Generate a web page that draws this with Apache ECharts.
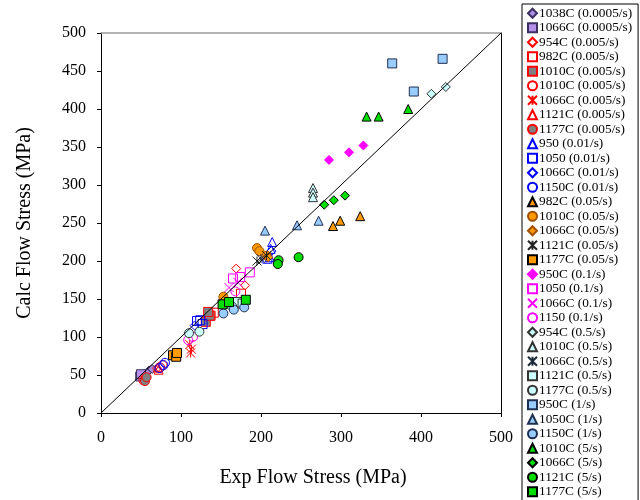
<!DOCTYPE html>
<html>
<head>
<meta charset="utf-8">
<script src="https://cdn.jsdelivr.net/npm/echarts@6/dist/echarts.min.js"></script>
<style>
  html, body { margin: 0; padding: 0; background: #fff; }
  #chart { width: 640px; height: 500px; }
</style>
</head>
<body>
<div id="chart"></div>
<script>
// Axis ticks
const axisTicks = [0, 50, 100, 150, 200, 250, 300, 350, 400, 450, 500];

// Measured (Exp) vs. calculated (Calc) flow stress, MPa: [exp, calc]
const s1038C_00005 = [[60, 56], [64, 58], [57, 53]];
const s1066C_00005 = [[49, 48], [50, 51]];
const s954C_0005 = [[169, 190], [180, 168], [70, 59]];
const s982C_0005 = [[175, 157], [141, 132], [137, 128]];
const s1010C_0005a = [[131, 120], [136, 128], [134, 133]];
const s1010C_0005b = [[53, 43], [74, 60], [77, 63], [56, 46]];
const s1066C_0005 = [[111, 90], [113, 84], [112, 79]];
const s1121C_0005 = [[72, 57], [71, 60]];
const s1177C_0005 = [[55, 42], [57, 47]];
const s950_001 = [[214, 225], [212, 216], [211, 205]];
const s1050_001 = [[120, 121], [127, 117], [124, 122], [208, 203]];
const s1066C_001 = [[213, 213], [117, 115]];
const s1150C_001 = [[78, 63], [73, 59], [80, 66]];
const s982C_005 = [[290, 246], [299, 253], [324, 259]];
const s1010C_005 = [[195, 217], [198, 213], [207, 207], [153, 153]];
const s1066C_005 = [[209, 205]];
const s1121C_005 = [[207, 207], [195, 200]];
const s1177C_005 = [[90, 76], [94, 74], [95, 79]];
const s950C_01 = [[285, 333], [310, 343], [328, 352]];
const s1050_01 = [[165, 177], [174, 179], [186, 185]];
const s1066C_01 = [[160, 165], [171, 172]];
const s1150_01 = [[109, 96], [115, 100], [168, 160]];
const s954C_05 = [[413, 420], [431, 429]];
const s1010C_05 = [[265, 296], [265, 290], [265, 284]];
const s1066C_05 = [[200, 203]];
const s1121C_05 = [[170, 146], [177, 144]];
const s1177C_05 = [[110, 105], [123, 107], [164, 140]];
const s950C_1 = [[364, 460], [427, 466], [391, 423]];
const s1050C_1 = [[205, 240], [245, 247], [272, 253]];
const s1150C_1 = [[153, 131], [166, 136], [179, 139]];
const s1010C_5 = [[332, 390], [347, 390], [384, 400]];
const s1066C_5 = [[279, 274], [291, 280], [305, 286]];
const s1121C_5 = [[222, 201], [221, 196], [247, 205]];
const s1177C_5 = [[152, 143], [160, 146], [181, 149]];

// Line of perfect agreement
const parityLine = [[0, 0], [500, 500]];

const NONE = 'rgba(255,255,255,0)';
const STAR = 'path://M0,0L10,10M10,0L0,10M5,0L5,10';
const CROSS = 'path://M0,0L10,10M10,0L0,10';

// name, data, symbol, fill, stroke
const groups = [
  ['1038C (0.0005/s)', s1038C_00005, 'diamond', '#a88de0', '#3d3060'],
  ['1066C (0.0005/s)', s1066C_00005, 'rect', '#b591ea', '#3d3060'],
  ['954C (0.005/s)', s954C_0005, 'diamond', NONE, '#ff0000'],
  ['982C (0.005/s)', s982C_0005, 'rect', NONE, '#ff0000'],
  ['1010C (0.005/s)', s1010C_0005a, 'rect', '#808080', '#ff0000'],
  ['1010C (0.005/s) ', s1010C_0005b, 'circle', NONE, '#ff0000'],
  ['1066C (0.005/s)', s1066C_0005, STAR, NONE, '#ff0000'],
  ['1121C (0.005/s)', s1121C_0005, 'triangle', NONE, '#ff0000'],
  ['1177C (0.005/s)', s1177C_0005, 'circle', '#808080', '#ff0000'],
  ['950 (0.01/s)', s950_001, 'triangle', NONE, '#0000ff'],
  ['1050 (0.01/s)', s1050_001, 'rect', NONE, '#0000ff'],
  ['1066C (0.01/s)', s1066C_001, 'diamond', NONE, '#0000ff'],
  ['1150C (0.01/s)', s1150C_001, 'circle', NONE, '#0000ff'],
  ['982C (0.05/s)', s982C_005, 'triangle', '#ff9900', '#000000'],
  ['1010C (0.05/s)', s1010C_005, 'circle', '#ff9900', '#a05000'],
  ['1066C (0.05/s)', s1066C_005, 'diamond', '#ff9900', '#a05000'],
  ['1121C (0.05/s)', s1121C_005, STAR, NONE, '#222222'],
  ['1177C (0.05/s)', s1177C_005, 'rect', '#ff9900', '#000000'],
  ['950C (0.1/s)', s950C_01, 'diamond', '#ff00ff', '#ff00ff'],
  ['1050 (0.1/s)', s1050_01, 'rect', NONE, '#ff00ff'],
  ['1066C (0.1/s)', s1066C_01, CROSS, NONE, '#ff00ff'],
  ['1150 (0.1/s)', s1150_01, 'circle', NONE, '#ff00ff'],
  ['954C (0.5/s)', s954C_05, 'diamond', '#ccffff', '#333333'],
  ['1010C (0.5/s)', s1010C_05, 'triangle', '#ccffff', '#333333'],
  ['1066C (0.5/s)', s1066C_05, STAR, NONE, '#1a2a3a'],
  ['1121C (0.5/s)', s1121C_05, 'rect', '#ccffff', '#333333'],
  ['1177C (0.5/s)', s1177C_05, 'circle', '#ccffff', '#333333'],
  ['950C (1/s)', s950C_1, 'rect', '#99ccff', '#1f3050'],
  ['1050C (1/s)', s1050C_1, 'triangle', '#99ccff', '#1f3050'],
  ['1150C (1/s)', s1150C_1, 'circle', '#99ccff', '#1f3050'],
  ['1010C (5/s)', s1010C_5, 'triangle', '#00dd00', '#000000'],
  ['1066C (5/s)', s1066C_5, 'diamond', '#00dd00', '#000000'],
  ['1121C (5/s)', s1121C_5, 'circle', '#00dd00', '#000000'],
  ['1177C (5/s)', s1177C_5, 'rect', '#00dd00', '#000000']
];

const SERIF = '"Liberation Serif", "Times New Roman", serif';

const series = groups.map(([name, data, symbol, fill, stroke]) => ({
  name,
  type: 'scatter',
  data,
  symbol,
  symbolSize: 9,
  itemStyle: { color: fill, borderColor: stroke, borderWidth: 1, opacity: 1 },
  emphasis: { disabled: true },
  z: 3
}));

series.push({
  name: 'parity',
  type: 'line',
  data: parityLine,
  showSymbol: false,
  symbol: 'none',
  lineStyle: { color: '#000', width: 1 },
  silent: true,
  z: 4
});

const chart = echarts.init(document.getElementById('chart'), null, { renderer: 'canvas' });
chart.setOption({
  backgroundColor: '#fff',
  animation: false,
  grid: { left: 101, top: 33, width: 400, height: 380, containLabel: false },
  legend: {
    orient: 'vertical',
    left: 522,
    top: 4,
    height: 600,
    padding: [2, 6, 2, 5],
    itemGap: 0,
    itemWidth: 9,
    itemHeight: 9,
    borderColor: '#000',
    borderWidth: 1,
    data: groups.map(g => g[0]),
    textStyle: { fontFamily: SERIF, fontSize: 13.3, color: '#000', lineHeight: 14.5, padding: [0, 0, 0, -3] },
    selectedMode: false
  },
  xAxis: [{
    type: 'value',
    min: 0, max: 500, interval: 100,
    name: 'Exp Flow Stress (MPa)',
    nameLocation: 'middle',
    nameGap: 55,
    nameTextStyle: { fontFamily: SERIF, fontSize: 20, color: '#000', padding: [0, 0, 0, 24] },
    axisLine: { show: true, lineStyle: { color: '#000', width: 1 } },
    axisTick: { show: true, inside: false, length: 4, lineStyle: { color: '#000' } },
    axisLabel: { fontFamily: SERIF, fontSize: 16, color: '#000', margin: 17,
      formatter: v => axisTicks.includes(v) ? String(v) : '' },
    splitLine: { show: false }
  }, {
    type: 'value', position: 'top', min: 0, max: 500,
    axisLine: { show: true, onZero: false, lineStyle: { color: '#9a9a9a', width: 1.5 } },
    axisTick: { show: false }, axisLabel: { show: false }, splitLine: { show: false }
  }],
  yAxis: [{
    type: 'value',
    min: 0, max: 500, interval: 50,
    name: 'Calc Flow Stress (MPa)',
    nameLocation: 'middle',
    nameGap: 66,
    nameTextStyle: { fontFamily: SERIF, fontSize: 20, color: '#000' },
    axisLine: { show: true, lineStyle: { color: '#000', width: 1 } },
    axisTick: { show: true, inside: false, length: 4, lineStyle: { color: '#000' } },
    axisLabel: { fontFamily: SERIF, fontSize: 16, color: '#000', margin: 15,
      formatter: v => axisTicks.includes(v) ? String(v) : '' },
    splitLine: { show: false }
  }, {
    type: 'value', position: 'right', min: 0, max: 500,
    axisLine: { show: true, onZero: false, lineStyle: { color: '#000', width: 1 } },
    axisTick: { show: false }, axisLabel: { show: false }, splitLine: { show: false }
  }],
  series
});
</script>
</body>
</html>
